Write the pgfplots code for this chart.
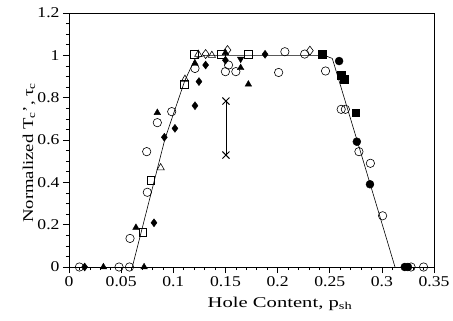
\documentclass[border=0pt]{standalone}
\usepackage{fontspec}
\setmainfont[FakeStretch=1.18]{Liberation Serif}
\newfontfamily\ylabfont[FakeStretch=1.25]{Liberation Serif}
\newfontfamily\xlabfont[FakeStretch=1.38]{Liberation Serif}
\usepackage{pgfplots}
\pgfplotsset{compat=1.18}
\begin{document}
\begin{tikzpicture}
\begin{axis}[
  scale only axis, width=365bp, height=254bp,
  xmin=0, xmax=0.35, ymin=0, ymax=1.2,
  xtick={0,0.05,0.1,0.15,0.2,0.25,0.3,0.35},
  xticklabels={0,0.05,0.1,0.15,0.2,0.25,0.3,0.35},
  ytick={0,0.2,0.4,0.6,0.8,1,1.2},
  yticklabels={0,0.2,0.4,0.6,0.8,1,1.2},
  minor x tick num=4, minor y tick num=3,
  tick align=outside, tick pos=left,
  major tick length=6bp, minor tick length=3bp,
  axis line style={line width=0.7pt},
  every tick/.style={black, line width=0.6pt},
  tick label style={font=\fontsize{15}{15}\selectfont},
  xlabel={Hole Content, p\textsubscript{sh}},
  ylabel={Normalized T\textsubscript{c}’, τ\textsubscript{c}},
  xlabel style={at={(axis description cs:0.578,-0.118)}, anchor=north, inner sep=0pt, font=\xlabfont\fontsize{15}{15}\selectfont},
  ylabel style={at={(axis description cs:-0.0986,0.45)}, anchor=base, inner sep=0pt, font=\ylabfont\fontsize{15}{15}\selectfont},
  clip=false,
]
% fitted curve
\addplot[black, line width=0.6pt, mark=none] coordinates {
(0.0607,0) (0.092,0.605) (0.111,0.88) (0.121,0.985) (0.13,1.0) (0.245,1.0) (0.2525,0.985) (0.279,0.553) (0.3126,0)};
% error bar with crosses
\addplot[black, line width=0.6pt, mark=x, mark size=5bp, mark options={line width=1pt}] coordinates {
(0.1505,0.784) (0.1505,0.529)};
% open circles
\addplot[only marks, mark=o, mark size=4.2bp, mark options={black, line width=0.6pt}] coordinates {
(0.010,0) (0.048,0) (0.058,0) (0.0585,0.135) (0.0751,0.353) (0.0745,0.545) (0.0847,0.682) (0.0985,0.734)
(0.1208,0.938) (0.150,0.923) (0.153,0.954) (0.160,0.923) (0.201,0.919) (0.207,1.017) (0.226,1.006)
(0.246,0.926) (0.261,0.745) (0.265,0.745) (0.278,0.545) (0.289,0.490) (0.3007,0.242) (0.328,0) (0.340,0)};
% filled diamonds
\addplot[only marks, mark=diamond*, mark size=4bp, mark options={black, fill=black}] coordinates {
(0.015,0) (0.0815,0.209) (0.0914,0.613) (0.1016,0.655) (0.1208,0.762) (0.1246,0.876) (0.131,0.954) (0.150,0.977) (0.188,1.005)};
% filled triangles
\addplot[only marks, mark=triangle*, mark size=3.8bp, mark options={black, fill=black}] coordinates {
(0.033,0) (0.072,0) (0.0642,0.186) (0.0847,0.729) (0.1208,0.962) (0.150,1.012) (0.1646,0.941) (0.172,0.863)};
% filled inverted triangle
\addplot[only marks, mark=triangle*, mark size=3.8bp, mark options={black, fill=black, rotate=180}] coordinates {
(0.1646,0.983)};
% open triangles
\addplot[only marks, mark=triangle, mark size=4.2bp, mark options={black, line width=0.6pt}] coordinates {
(0.0879,0.469) (0.1112,0.887) (0.124,1.005) (0.137,1.0)};
% open squares
\addplot[only marks, mark=square, mark size=3.8bp, mark options={black, line width=0.6pt}] coordinates {
(0.0706,0.164) (0.0786,0.411) (0.1103,0.863) (0.1203,1.006) (0.146,1.006) (0.172,1.006)};
% open diamonds
\addplot[only marks, mark=diamond, mark size=4.5bp, mark options={black, line width=0.6pt}] coordinates {
(0.131,1.006) (0.152,1.025) (0.231,1.022)};
% filled squares
\addplot[only marks, mark=square*, mark size=3.8bp, mark options={black, fill=black}] coordinates {
(0.243,1.006) (0.261,0.907) (0.264,0.887) (0.275,0.729)};
% filled circles
\addplot[only marks, mark=*, mark size=4bp, mark options={black, fill=black}] coordinates {
(0.259,0.973) (0.276,0.592) (0.2886,0.391) (0.322,0) (0.325,0)};
\end{axis}
\pgfresetboundingbox
\path[use as bounding box] ([shift={(-69bp,-53bp)}]current axis.south west) rectangle ([shift={(19bp,13bp)}]current axis.north east);
\end{tikzpicture}
\end{document}
